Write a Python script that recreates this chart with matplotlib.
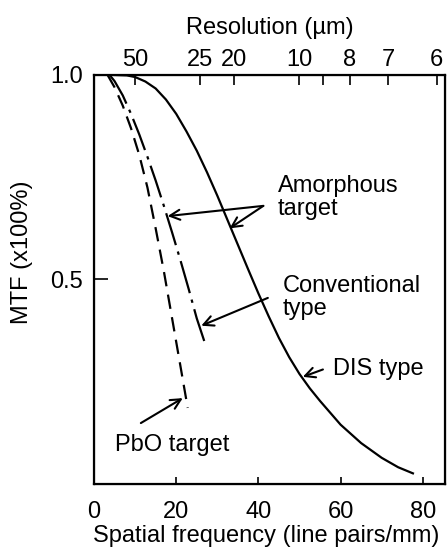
import matplotlib.pyplot as plt

plt.rcParams['font.family'] = ['Liberation Sans', 'DejaVu Sans']
plt.rcParams['font.size'] = 17

# DIS type (solid)
dis_f = [5, 8, 10, 12.5, 15, 17.5, 20, 22.5, 25, 27.5, 30, 32.5, 35, 37.5, 40,
         42.5, 45, 47.5, 50, 52.5, 55, 60, 65, 70, 74, 77.6]
dis_mtf = [1.0, 0.999, 0.995, 0.984, 0.967, 0.940, 0.905, 0.862, 0.815, 0.762,
           0.705, 0.645, 0.585, 0.525, 0.466, 0.410, 0.357, 0.310, 0.269, 0.234,
           0.203, 0.145, 0.100, 0.064, 0.041, 0.026]

# Conventional type, amorphous target (dash-dot)
conv_f = [3.8, 5, 7, 9, 11, 13, 15, 17, 19, 21, 23, 25, 27.3]
conv_mtf = [1.0, 0.985, 0.950, 0.905, 0.855, 0.800, 0.742, 0.680, 0.615, 0.548,
            0.478, 0.405, 0.335]

# Conventional type, PbO target (dashed)
pbo_f = [3.3, 5, 7, 9, 11, 13, 15, 17, 19, 21, 22.8]
pbo_mtf = [1.0, 0.97, 0.925, 0.87, 0.805, 0.725, 0.625, 0.52, 0.405, 0.29, 0.186]

x_ticks = [0, 20, 40, 60, 80]
y_ticks = [0.5, 1.0]
y_labels = ['0.5', '1.0']

# top axis: resolution labels at their spatial-frequency positions
res_pos = [10, 25.7, 34.0, 50.0, 55.6, 62.3, 71.6, 83.4]
res_labels = ['50', '25', '20', '10', '', '8', '7', '6']

fig = plt.figure(figsize=(4.47, 5.51), dpi=100)
ax = fig.add_axes([0.2103, 0.1216, 0.7852, 0.7423])

ax.plot(dis_f, dis_mtf, color='black', lw=1.6)
ax.plot(conv_f, conv_mtf, color='black', lw=1.6, linestyle=(0, (15, 3, 1.5, 3)))
ax.plot(pbo_f, pbo_mtf, color='black', lw=1.6, linestyle=(0, (6.5, 3.8)))

ax.set_xlim(0, 85.4)
ax.set_ylim(0, 1.0)
ax.set_xticks(x_ticks)
ax.set_yticks(y_ticks)
ax.set_yticklabels(y_labels)
ax.tick_params(axis='x', direction='in', length=5, width=1.2, pad=12)
ax.tick_params(axis='y', direction='in', length=10, width=1.2, pad=8)
for s in ax.spines.values():
    s.set_linewidth(1.6)

ax.set_xlabel('Spatial frequency (line pairs/mm)')
ax.xaxis.set_label_coords(0.49, -0.10)
ax.set_ylabel('MTF (x100%)')
ax.yaxis.set_label_coords(-0.175, 0.567)

ax2 = ax.twiny()
ax2.set_xlim(ax.get_xlim())
ax2.set_xticks(res_pos)
ax2.set_xticklabels(res_labels)
ax2.tick_params(axis='x', direction='in', length=7, width=1.2, pad=3)
ax2.set_xlabel('Resolution (µm)', labelpad=11)

arrow = dict(arrowstyle='->', color='black', lw=1.5, shrinkA=0, shrinkB=0,
             mutation_scale=18)
ax.annotate('', xy=(17.9, 0.655), xytext=(41.2, 0.680), arrowprops=arrow)
ax.annotate('', xy=(33.0, 0.625), xytext=(41.2, 0.680), arrowprops=arrow)
ax.annotate('', xy=(26.1, 0.387), xytext=(42.3, 0.455), arrowprops=arrow)
ax.annotate('', xy=(50.8, 0.262), xytext=(55.7, 0.280), arrowprops=arrow)
ax.annotate('', xy=(21.6, 0.210), xytext=(11.4, 0.149), arrowprops=arrow)

ax.text(44.7, 0.755, 'Amorphous\ntarget', ha='left', va='top', linespacing=1.05)
ax.text(46.0, 0.510, 'Conventional\ntype', ha='left', va='top', linespacing=1.05)
ax.text(58.1, 0.280, 'DIS type', ha='left', va='center')
ax.text(5.2, 0.095, 'PbO target', ha='left', va='center')

fig.savefig('out.png', dpi=100)
